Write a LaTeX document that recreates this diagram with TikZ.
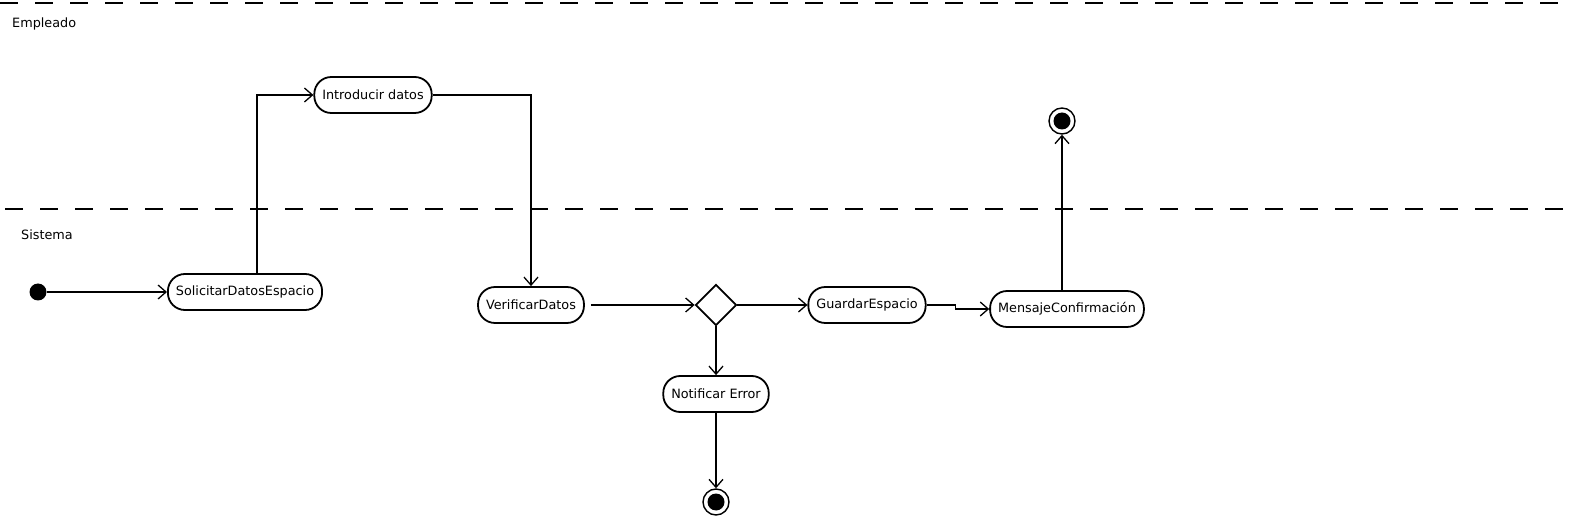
\documentclass[tikz,border=0pt]{standalone}
\usepackage{fontspec}
\setmainfont{DejaVu Sans}
\usetikzlibrary{arrows.meta,shapes.geometric,positioning}
\begin{document}
\begin{tikzpicture}[x=1pt, y=-1pt, line width=1.8pt,
  font=\fontsize{12.8}{15}\selectfont,
  act/.style={draw, rounded corners=17pt, minimum height=36pt, inner xsep=8pt},
  start/.style={circle, fill=black, minimum size=17pt, inner sep=0pt},
  stop/.style={circle, draw, line width=1.4pt, minimum size=26pt, inner sep=0pt,
    path picture={\fill (path picture bounding box.center) circle (8.5pt);}},
  choice/.style={diamond, draw, minimum width=41pt, minimum height=41pt, inner sep=0pt},
  lane/.style={dash pattern=on 18pt off 17pt},
  flow/.style={-{Straight Barb[length=8pt,width=14pt,line width=1.3pt]}}]
\useasboundingbox (0,0) rectangle (1575,521);
\draw[lane] (0,3) -- (1565,3);
\draw[lane] (5,209) -- (1565,209);
\node[anchor=base west] (empleado) at (8,28) {Empleado};
\node[anchor=base west] (sistema) at (17,240) {Sistema};
\node[start] (ini) at (38,292) {};
\node[act] (solicitar) at (245,292) {SolicitarDatosEspacio};
\node[act] (introducir) at (373,95) {Introducir datos};
\node[act] (verificar) at (531,305) {VerificarDatos};
\node[choice] (dec) at (716,305) {};
\node[act] (guardar) at (867,305) {GuardarEspacio};
\node[act] (mensaje) at (1067,309) {MensajeConfirmación};
\node[act] (error) at (716,394) {Notificar Error};
\node[stop] (finerror) at (716,502) {};
\node[stop] (fin) at (1062,121) {};
\draw[flow] (ini) -- (solicitar);
\draw[flow] ([xshift=12pt]solicitar.north) |- (introducir.west);
\draw[flow] (introducir.east) -| (verificar.north);
\draw[flow] ([xshift=6pt]verificar.east) -- (dec.west);
\draw[flow] (dec.east) -- (guardar.west);
\draw[flow] (guardar.east) -- ++(29,0) |- (mensaje.west);
\draw[flow] (mensaje.north -| fin.south) -- (fin.south);
\draw[flow] (dec.south) -- (error.north);
\draw[flow] (error.south) -- (finerror.north);
\end{tikzpicture}
\end{document}
